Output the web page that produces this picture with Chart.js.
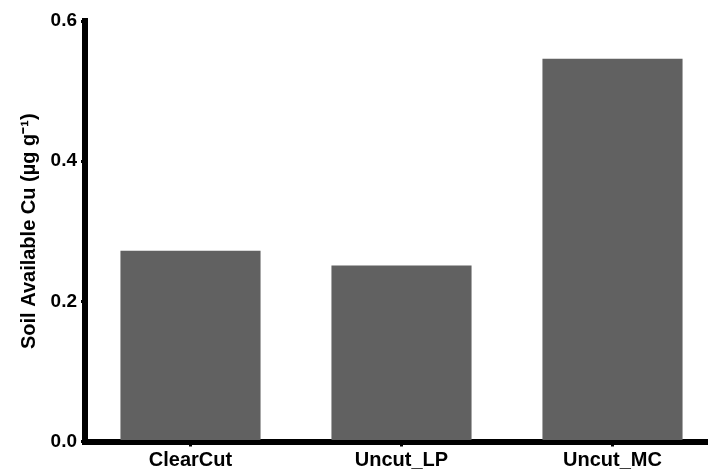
<!DOCTYPE html>
<html>
<head>
<meta charset="utf-8">
<script src="https://cdn.jsdelivr.net/npm/chart.js@4"></script>
<style>
  html, body { margin: 0; padding: 0; background: #fff; overflow: hidden; }
  #wrap { width: 720px; height: 474px; }
</style>
</head>
<body>
<div id="wrap"><canvas id="myChart" width="720" height="474"></canvas></div>
<script>
const categories = ['ClearCut', 'Uncut_LP', 'Uncut_MC'];
const cuValues = [0.272, 0.251, 0.546];
const yTicks = [0.0, 0.2, 0.4, 0.6];

const ctx = document.getElementById('myChart');

const chrt = new Chart(ctx, {
  type: 'bar',
  data: {
    labels: categories,
    datasets: [
      {
        label: 'Soil Available Cu',
        data: cuValues,
        backgroundColor: '#616161',
        borderWidth: 0,
        barPercentage: 0.664,
        categoryPercentage: 1.0
      }
    ]
  },
  options: {
    responsive: false,
    animation: false,
    layout: {
      padding: { top: 21, right: 2, left: 0, bottom: 0 }
    },
    plugins: {
      legend: { display: false },
      tooltip: { enabled: false }
    },
    scales: {
      x: {
        offset: true,
        border: { display: true, color: '#000', width: 6 },
        grid: {
          offset: false,
          drawOnChartArea: false,
          drawTicks: true,
          tickLength: 5,
          color: '#000',
          lineWidth: 3
        },
        ticks: {
          color: '#000',
          padding: 2,
          font: { family: '"Liberation Sans", Arial', size: 20, weight: 'bold' }
        },
        afterFit: (scale) => { scale.height = 32.5; }
      },
      y: {
        min: 0,
        max: 0.6,
        afterBuildTicks: (scale) => { scale.ticks = yTicks.map(v => ({ value: v })); },
        border: { display: true, color: '#000', width: 6 },
        grid: {
          drawOnChartArea: false,
          drawTicks: true,
          tickLength: 4,
          color: '#000',
          lineWidth: 3
        },
        ticks: {
          color: '#000',
          padding: 4,
          callback: (v) => Number(v).toFixed(1),
          font: { family: '"Liberation Sans", Arial', size: 19, weight: 'bold' }
        },
        title: {
          display: true,
          text: 'Soil Available Cu (µg g⁻¹)',
          color: '#000',
          padding: { top: 17, bottom: 0 },
          font: { family: '"Liberation Sans", Arial', size: 20, weight: 'bold' }
        },
        afterFit: (scale) => { scale.width = 85; }
      }
    }
  }
});

console.log(chrt);
</script>
</body>
</html>
